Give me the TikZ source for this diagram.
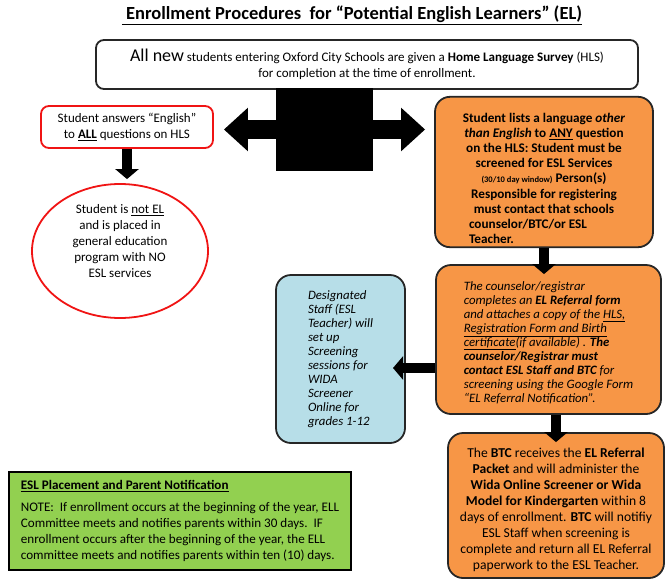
\documentclass[tikz,border=0pt]{standalone}
\usepackage{fontspec}
\setmainfont{Carlito}
\usetikzlibrary{arrows.meta,shapes.geometric}
\definecolor{elorange}{RGB}{247,150,70}
\definecolor{elblue}{RGB}{183,222,232}
\definecolor{elgreen}{RGB}{146,208,80}
\definecolor{elred}{RGB}{240,20,20}
\begin{document}
\begin{tikzpicture}[x=1pt,y=-1pt,
	hlsbox/.style={draw=black!85,line width=1.8pt,rounded corners=8pt,fill=white,align=center},
	redbox/.style={draw=elred,line width=1.8pt,rounded corners=8pt,fill=white,align=center,
		font=\fontsize{13}{16}\selectfont},
	orangebox/.style={draw=black!85,line width=1.8pt,rounded corners=15pt,fill=elorange},
	bluebox/.style={draw=black!85,line width=1.8pt,rounded corners=15pt,fill=elblue},
	blockarrow/.style={line width=10pt,-{Triangle[length=10pt,width=23pt]}},
	hubarrow/.style={line width=19pt,-{Triangle[length=24pt,width=42pt]}}]
	\useasboundingbox (0,0) rectangle (666,581);
	\node at (352,15) [font=\fontsize{18.5}{21}\selectfont\bfseries] (title)
		{\underline{\ Enrollment Procedures\ \ for “Potential English Learners” (EL)}};
	\node at (367,64.5) [hlsbox,minimum width=542pt,minimum height=49pt,
		font=\fontsize{13}{16}\selectfont] (hls)
		{{\fontsize{18}{18}\selectfont All new} students entering Oxford City Schools are given a \textbf{Home Language Survey} (HLS)\\
		for completion at the time of enrollment.};
	\node at (324.5,129.5) [fill=black,minimum width=97pt,minimum height=83pt] (hub) {};
	\node at (127,127) [redbox,minimum width=172pt,minimum height=42pt] (ans)
		{Student answers “English”\\ to \underline{\textbf{ALL}} questions on HLS};
	\node at (120,251) [ellipse,draw=elred,line width=1.8pt,fill=white,minimum width=176pt,
		minimum height=134pt,inner sep=0pt,align=center,font=\fontsize{13}{16}\selectfont] (notel)
		{Student is \underline{not EL}\\ and is placed in\\ general education\\ program with NO\\ ESL services\\[4pt]};
	\node at (544,172) [orangebox,minimum width=218pt,minimum height=150pt,align=center,
		font=\fontsize{13.2}{15.2}\selectfont\bfseries] (lists)
		{\rule{0pt}{22pt}Student lists a language \textit{other}\\
		\textit{than English} to \underline{ANY} question\\
		on the HLS: Student must be\\
		screened for ESL Services\\
		{\fontsize{8.5}{10}\selectfont(30/10 day window)} Person(s)\\
		Responsible for registering\\
		must contact that schools\\
		\makebox[150pt][l]{counselor/BTC/or ESL}\\
		\makebox[150pt][l]{Teacher.}};
	\node at (548.5,339.5) [orangebox,minimum width=225pt,minimum height=149pt,align=left,
		font=\fontsize{12.8}{14}\selectfont\itshape] (refer)
		{\rule{0pt}{15pt}The counselor/registrar\\
		completes an \textbf{EL Referral form}\\
		and attaches a copy of the \underline{HLS,}\\
		\underline{Registration Form and Birth}\\
		\underline{certificate}(if available) . \textbf{The}\\
		\textbf{counselor/Registrar must}\\
		\textbf{contact ESL Staff and BTC} for\\
		screening using the Google Form\\
		“EL Referral Notification”.};
	\node at (340.5,359) [bluebox,minimum width=129pt,minimum height=168pt,align=left,
		font=\fontsize{12.8}{14}\selectfont\itshape] (staff)
		{Designated\\ Staff (ESL\\ Teacher) will\\ set up\\ Screening\\ sessions for\\ WIDA\\ Screener\\ Online for\\ grades 1-12};
	\node at (556,505.5) [orangebox,minimum width=216pt,minimum height=145pt,align=center,
		font=\fontsize{13.6}{16}\selectfont] (btc)
		{\rule{0pt}{19pt}The \textbf{BTC} receives the \textbf{EL Referral}\\
		\textbf{Packet} and will administer the\\
		\textbf{Wida Online Screener or Wida}\\
		\textbf{Model for Kindergarten} within 8\\
		days of enrollment. \textbf{BTC} will notifiy\\
		ESL Staff when screening is\\
		complete and return all EL Referral\\
		paperwork to the ESL Teacher.};
	\node at (180,521) [draw=black,line width=2.5pt,fill=elgreen,minimum width=342pt,
		minimum height=98pt,align=left,
		font=\fontsize{13.1}{16}\selectfont] (note)
		{\textbf{\underline{ESL Placement and Parent Notification}}\\[6pt]
		NOTE:\ \ If enrollment occurs at the beginning of the year, ELL\\
		Committee meets and notifies parents within 30 days.\ \ IF\\
		enrollment occurs after the beginning of the year, the ELL\\
		committee meets and notifies parents within ten (10) days.};
	\coordinate (stafftip) at (393,368);
	\draw [hubarrow,shorten >=10pt] (hub.center) -- (ans.east |- hub.center);
	\draw [hubarrow,shorten >=9pt] (hub.center) -- (lists.west |- hub.center);
	\draw [blockarrow,shorten >=4pt] (ans.south) -- (ans.south |- notel.north);
	\draw [blockarrow,shorten >=-10pt] (lists.south) -- (lists.south |- refer.north);
	\draw [blockarrow] (refer.west |- stafftip) -- (stafftip);
	\draw [blockarrow,shorten >=-10pt] (btc.north |- refer.south) -- (btc.north);
\end{tikzpicture}
\end{document}
